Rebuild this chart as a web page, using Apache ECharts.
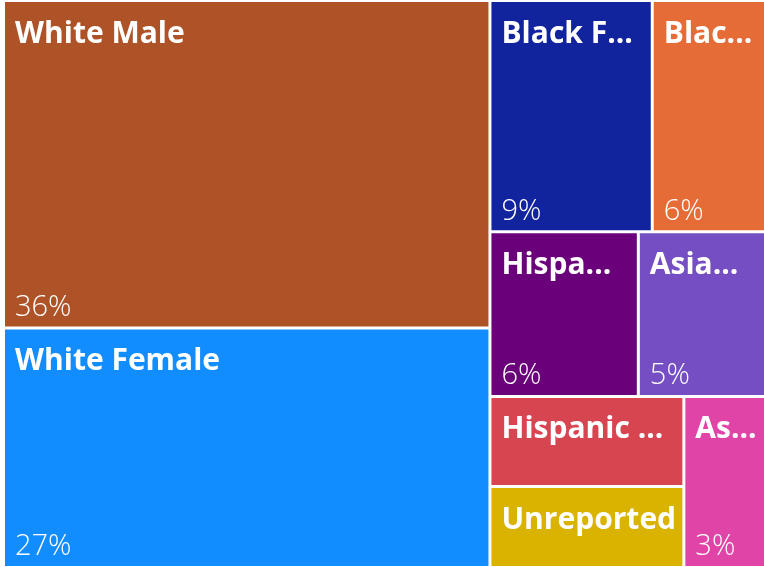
<!DOCTYPE html>
<html>
<head>
<meta charset="utf-8">
<script src="https://cdn.jsdelivr.net/npm/echarts@6/dist/echarts.min.js"></script>
<style>
  html, body { margin: 0; padding: 0; background: #fff; }
  #treemapChart { width: 764px; height: 567px; }
</style>
</head>
<body>
<div id="treemapChart"></div>
<script>
// groups, their share of the total and the percent text shown
var groups = ['White Male', 'White Female', 'Black Female', 'Black Male', 'Hispanic Female',
              'Asian Female', 'Hispanic Male', 'Unreported', 'Asian Male'];
var shares = [36.5, 26.7, 8.6, 6.0, 5.6, 4.8, 4.0, 3.6, 3.2];
var pctLabels = ['36%', '27%', '9%', '6%', '6%', '5%', '', '', '3%'];

var palette = ['#AE5228', '#118DFF', '#12239E', '#E66C37', '#6B007B',
               '#744EC2', '#D64550', '#D9B300', '#E044A7'];

var chart = echarts.init(document.getElementById('treemapChart'));

var nameData = [];
var pctData = [];
for (var i = 0; i < groups.length; i++) {
    nameData.push({ name: groups[i], value: shares[i] });
    pctData.push({ name: groups[i], value: shares[i], pct: pctLabels[i] });
}

var common = {
    type: 'treemap',
    left: 5,
    top: 2,
    right: 0,
    bottom: 1,
    roam: false,
    nodeClick: false,
    silent: true,
    sort: false,
    breadcrumb: { show: false },
    upperLabel: { show: false },
    emphasis: { disabled: true }
};

var option = {
    animation: false,
    series: [
        Object.assign({}, common, {
            data: nameData,
            itemStyle: { gapWidth: 3, borderWidth: 0 },
            levels: [
                { color: palette, itemStyle: { gapWidth: 3, borderWidth: 0 } },
                { itemStyle: { borderWidth: 0, gapWidth: 0 } }
            ],
            label: {
                show: true,
                position: 'insideTopLeft',
                distance: 0,
                padding: [17, 5, 0, 10],
                color: '#fff',
                fontFamily: 'Open Sans',
                fontWeight: 'bold',
                fontSize: 30,
                lineHeight: 30,
                overflow: 'truncate',
                ellipsis: '...',
                formatter: '{b}'
            }
        }),
        Object.assign({}, common, {
            data: pctData,
            itemStyle: { gapWidth: 3, borderWidth: 0 },
            levels: [
                { itemStyle: { gapWidth: 3, borderWidth: 0 } },
                { itemStyle: { color: 'rgba(0,0,0,0)', borderWidth: 0 } }
            ],
            label: {
                show: true,
                position: 'insideBottomLeft',
                distance: 0,
                padding: [0, 10, 4, 10],
                color: '#fff',
                fontFamily: 'Open Sans',
                fontWeight: 300,
                fontSize: 29,
                lineHeight: 30,
                formatter: function (p) {
                    return p.data.pct;
                }
            }
        })
    ]
};

option && chart.setOption(option);
</script>
</body>
</html>
